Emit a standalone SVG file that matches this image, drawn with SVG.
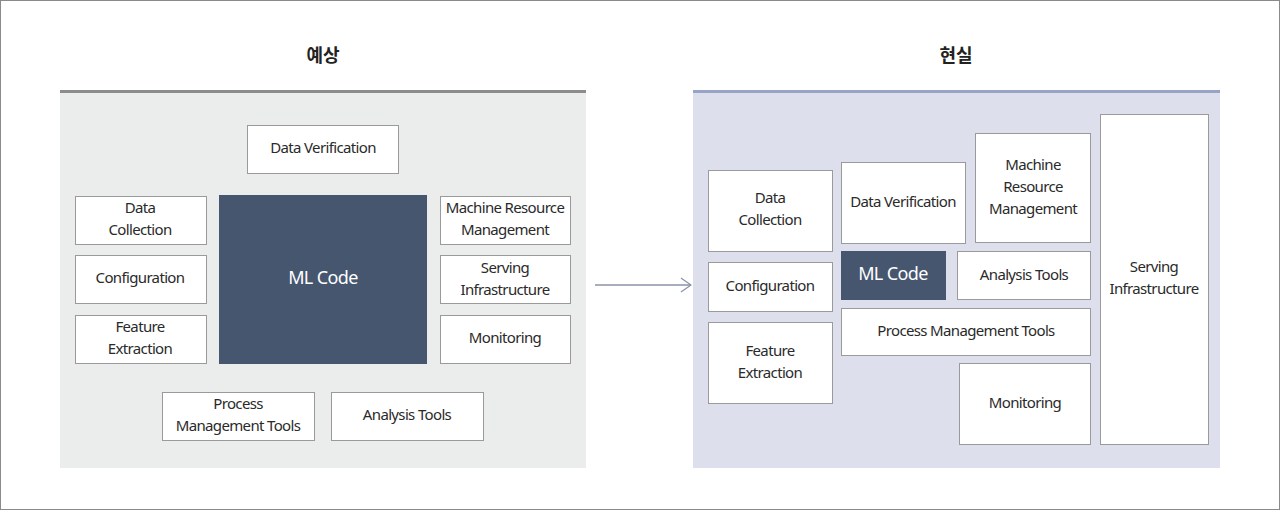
<svg xmlns="http://www.w3.org/2000/svg" width="1280" height="510" viewBox="0 0 1280 510">
<defs>
<style>
.box{fill:#ffffff;stroke:#9a9a9a;stroke-width:1}
.ml{fill:#46566f;stroke:#46566f;stroke-width:1}
.t{font-family:"Noto Sans","Noto Sans CJK KR",sans-serif;font-size:15px;fill:#2a2a2a;text-anchor:middle;letter-spacing:-0.65px}
.mlt{font-family:"Noto Sans","Noto Sans CJK KR",sans-serif;font-size:18px;fill:#ffffff;text-anchor:middle;letter-spacing:-0.6px}
.title{font-family:"Noto Sans CJK KR","Noto Sans",sans-serif;font-size:18px;font-weight:700;fill:#222;text-anchor:middle}
</style>
<marker id="arr" viewBox="0 0 12 16" refX="11" refY="8" markerWidth="12" markerHeight="16" markerUnits="userSpaceOnUse" orient="auto">
<path d="M1,1 L11,8 L1,15" fill="none" stroke="#8a94a8" stroke-width="1.3"/>
</marker>
</defs>
<rect x="0.5" y="0.5" width="1279" height="509" fill="#ffffff" stroke="#8a8a8a" stroke-width="1"/>

<g id="panel-left">
<rect x="60" y="91" width="526" height="377" fill="#ebecec"/>
<rect x="60" y="90" width="526" height="3" fill="#8c8c8c"/>
<text class="title" x="323" y="62">예상</text>
</g>
<g id="panel-right">
<rect x="693" y="91" width="527" height="377" fill="#dde0ec"/>
<rect x="693" y="90" width="527" height="3" fill="#98a3c8"/>
<text class="title" x="956" y="62">현실</text>
</g>

<g id="connectors">
<line x1="595" y1="285" x2="691" y2="285" stroke="#8a94a8" stroke-width="1.3" marker-end="url(#arr)"/>
</g>

<g id="l-data-verification"><rect class="box" x="247.5" y="125.5" width="151" height="48"/><text class="t" x="323" y="153">Data Verification</text></g>
<g id="l-data-collection"><rect class="box" x="75.5" y="196.5" width="131" height="48"/><text class="t" x="140" y="213">Data</text><text class="t" x="140" y="235">Collection</text></g>
<g id="l-configuration"><rect class="box" x="75.5" y="255.5" width="131" height="48"/><text class="t" x="140" y="283">Configuration</text></g>
<g id="l-feature-extraction"><rect class="box" x="75.5" y="315.5" width="131" height="48"/><text class="t" x="140" y="332">Feature</text><text class="t" x="140" y="354">Extraction</text></g>
<g id="l-ml-code"><rect class="ml" x="219.5" y="195.5" width="207" height="168"/><text class="mlt" x="323" y="284">ML Code</text></g>
<g id="l-machine-resource"><rect class="box" x="440.5" y="196.5" width="130" height="48"/><text class="t" x="505" y="213">Machine Resource</text><text class="t" x="505" y="235">Management</text></g>
<g id="l-serving"><rect class="box" x="440.5" y="255.5" width="130" height="48"/><text class="t" x="505" y="273">Serving</text><text class="t" x="505" y="295">Infrastructure</text></g>
<g id="l-monitoring"><rect class="box" x="440.5" y="315.5" width="130" height="48"/><text class="t" x="505" y="343">Monitoring</text></g>
<g id="l-process"><rect class="box" x="162.5" y="392.5" width="152" height="48"/><text class="t" x="238" y="409">Process</text><text class="t" x="238" y="431">Management Tools</text></g>
<g id="l-analysis"><rect class="box" x="331.5" y="392.5" width="152" height="48"/><text class="t" x="407" y="420">Analysis Tools</text></g>

<g id="r-data-collection"><rect class="box" x="708.5" y="170.5" width="124" height="81"/><text class="t" x="770" y="203">Data</text><text class="t" x="770" y="225">Collection</text></g>
<g id="r-configuration"><rect class="box" x="708.5" y="262.5" width="124" height="49"/><text class="t" x="770" y="291">Configuration</text></g>
<g id="r-feature-extraction"><rect class="box" x="708.5" y="322.5" width="124" height="81"/><text class="t" x="770" y="356">Feature</text><text class="t" x="770" y="378">Extraction</text></g>
<g id="r-data-verification"><rect class="box" x="841.5" y="162.5" width="124" height="81"/><text class="t" x="903" y="207">Data Verification</text></g>
<g id="r-ml-code"><rect class="ml" x="841.5" y="251.5" width="104" height="48"/><text class="mlt" x="893" y="280">ML Code</text></g>
<g id="r-analysis"><rect class="box" x="957.5" y="251.5" width="133" height="48"/><text class="t" x="1024" y="280">Analysis Tools</text></g>
<g id="r-machine-resource"><rect class="box" x="975.5" y="133.5" width="115" height="109"/><text class="t" x="1033" y="170">Machine</text><text class="t" x="1033" y="192">Resource</text><text class="t" x="1033" y="214">Management</text></g>
<g id="r-serving"><rect class="box" x="1100.5" y="114.5" width="108" height="330"/><text class="t" x="1154" y="272">Serving</text><text class="t" x="1154" y="294">Infrastructure</text></g>
<g id="r-process"><rect class="box" x="841.5" y="308.5" width="249" height="47"/><text class="t" x="966" y="336">Process Management Tools</text></g>
<g id="r-monitoring"><rect class="box" x="959.5" y="363.5" width="131" height="81"/><text class="t" x="1025" y="408">Monitoring</text></g>
</svg>
